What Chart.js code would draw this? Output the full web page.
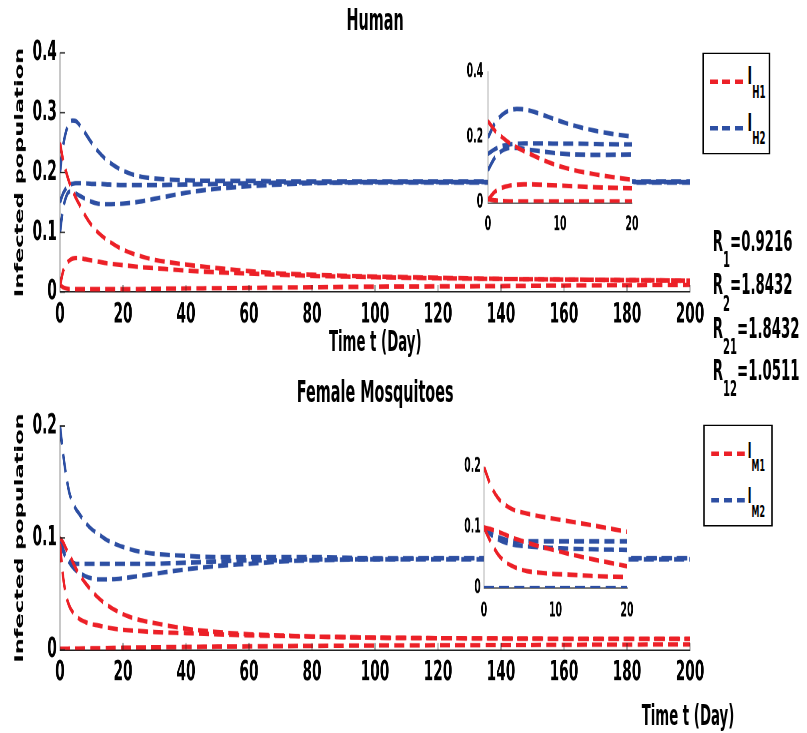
<!DOCTYPE html>
<html>
<head>
<meta charset="utf-8">
<title>Infected population - Human / Female Mosquitoes</title>
<script src="https://cdn.jsdelivr.net/npm/chart.js@4.4.1/dist/chart.umd.min.js"></script>
<style>
  html { overflow: hidden; }
  html, body { margin: 0; padding: 0; background: #fff; }
  body { width: 807px; height: 733px; }
  /* the original figure has very tall, narrow lettering: lay out in
     unstretched units and squeeze x by 0.8, stretch y by 1.5 */
  #fig {
    position: relative; width: 1009px; height: 489px;
    transform: scale(0.8, 1.5); transform-origin: 0 0;
    font-family: 'DejaVu Sans Condensed', 'Liberation Sans Narrow', 'DejaVu Sans', sans-serif;
    font-weight: bold; color: #000;
  }
  #fig canvas { position: absolute; }
  .txt { position: absolute; white-space: nowrap; line-height: 1; text-align: center; }
  .title { font-size: 20px; width: 240px; }
  .xlab { font-size: 18.5px; width: 200px; }
  .rval { position: absolute; white-space: nowrap; line-height: 1; font-size: 18.5px; left: 891px; }
  .rval sub { font-size: 14px; vertical-align: -11px; line-height: 1; }
  .legend { position: absolute; border-style: solid; border-color: #000; border-width: 1.4px 2.2px; box-sizing: border-box; background: #fff; }
  .legend .sw { position: absolute; height: 2.8px; }
  .legend .lab { position: absolute; line-height: 1; }
  .legend sub { line-height: 1; }
  .red { background: repeating-linear-gradient(to right, #ec2027 0 10px, transparent 10px 16px); }
  .blue { background: repeating-linear-gradient(to right, #2d4fa3 0 10px, transparent 10px 16px); }
</style>
</head>
<body>
<div id="fig">
  <canvas id="cHuman" width="910" height="240" style="left:0;top:0"></canvas>
  <canvas id="cHumanIn" width="275" height="130" style="left:550px;top:30px"></canvas>
  <canvas id="cMosq" width="910" height="249" style="left:0;top:240px"></canvas>
  <canvas id="cMosqIn" width="275" height="125" style="left:550px;top:295px"></canvas>

  <div class="txt title" style="left:349px;top:3.1px">Human</div>
  <div class="txt xlab" style="left:369px;top:219.4px">Time t (Day)</div>
  <div class="txt title" style="left:349px;top:250.9px">Female Mosquitoes</div>
  <div class="txt xlab" style="left:760px;top:468px">Time t (Day)</div>

  <div class="legend" style="left:877.5px;top:35.3px;width:85px;height:67.3px">
    <div class="sw red" style="left:7.5px;width:43.7px;top:16.6px"></div>
    <div class="lab" style="left:55px;top:5.6px;font-size:17px">I<sub style="font-size:12px;vertical-align:-9px">H1</sub></div>
    <div class="sw blue" style="left:7.5px;width:43.7px;top:47.9px"></div>
    <div class="lab" style="left:55px;top:36.9px;font-size:17px">I<sub style="font-size:12px;vertical-align:-9px">H2</sub></div>
  </div>
  <div class="legend" style="left:878.7px;top:283.3px;width:87.5px;height:68px">
    <div class="sw red" style="left:8.7px;width:41.3px;top:16.8px"></div>
    <div class="lab" style="left:54px;top:9px;font-size:14px">I<sub style="font-size:11px;vertical-align:-9px">M1</sub></div>
    <div class="sw blue" style="left:8.7px;width:41.3px;top:48.2px"></div>
    <div class="lab" style="left:54px;top:39px;font-size:14px">I<sub style="font-size:11px;vertical-align:-9.5px">M2</sub></div>
  </div>

  <div class="rval" style="top:152.4px">R<sub>1</sub>=0.9216</div>
  <div class="rval" style="top:181px">R<sub>2</sub>=1.8432</div>
  <div class="rval" style="top:209.7px">R<sub>21</sub>=1.8432</div>
  <div class="rval" style="top:238.4px">R<sub>12</sub>=1.0511</div>
</div>

<script>
// time grid (days) for the 0-200 day runs
const tLong = [0, 1, 2, 3, 4, 5, 6, 8, 10, 12, 15, 20, 25, 30, 40, 50, 60, 70, 80, 100, 120, 140, 160, 180, 200];
// time grid for the zoomed mosquito inset (0-20 days)
const tShort = [0, 1, 2, 3, 4, 5, 6, 8, 10, 12, 15, 20];

// Human, I_H1 (three initial conditions)
const ih1a = [.25, .22, .2, .183, .17, .158, .148, .128, .112, .1, .087, .071, .061, .054, .046, .04, .035, .031, .029, .026, .024, .022, .021, .02, .019];
const ih1b = [.01, .035, .047, .053, .056, .057, .057, .055, .053, .051, .048, .045, .042, .04, .036, .033, .031, .029, .027, .025, .023, .022, .021, .02, .019];
const ih1c = [.012, .008, .006, .005, .005, .005, .005, .005, .005, .005, .005, .005, .005, .0055, .006, .0065, .007, .0075, .008, .009, .0095, .01, .011, .0115, .012];
// Human, I_H2
const ih2a = [.2, .245, .27, .283, .287, .286, .281, .266, .25, .236, .22, .203, .194, .19, .187, .186, .186, .185, .185, .185, .185, .185, .185, .185, .185];
const ih2b = [.15, .165, .174, .179, .181, .182, .182, .182, .181, .181, .18, .179, .179, .179, .18, .181, .182, .183, .183, .184, .184, .184, .184, .184, .184];
const ih2c = [.1, .14, .16, .168, .168, .165, .162, .156, .151, .148, .147, .148, .151, .156, .166, .173, .177, .18, .182, .183, .183, .183, .183, .183, .183];

// Female mosquitoes, I_M1
const im1a = [.1, .096, .09, .085, .079, .073, .068, .06, .053, .047, .04, .032, .027, .024, .019, .016, .014, .013, .012, .011, .0105, .0102, .01, .01, .01];
const im1b = [.095, .065, .048, .039, .034, .031, .028, .025, .023, .022, .02, .018, .017, .016, .015, .014, .013, .0125, .012, .011, .0105, .0102, .01, .01, .01];
const im1c = [.001, .001, .001, .0012, .0012, .0013, .0013, .0014, .0015, .0016, .0017, .002, .0022, .0024, .0027, .003, .0032, .0034, .0036, .004, .0042, .0044, .0046, .0048, .005];
// Female mosquitoes, I_M2
const im2a = [.2, .175, .155, .14, .132, .126, .122, .114, .108, .104, .098, .092, .088, .086, .084, .083, .083, .083, .083, .082, .082, .082, .082, .082, .082];
const im2b = [.098, .088, .082, .079, .078, .077, .077, .077, .077, .077, .077, .077, .077, .077, .078, .079, .08, .08, .081, .081, .082, .082, .082, .082, .082];
const im2c = [.1, .09, .083, .078, .074, .071, .069, .066, .064, .063, .063, .064, .066, .068, .072, .075, .077, .079, .08, .081, .081, .081, .081, .081, .081];

// mosquito inset (0-20 days)
const insM1a = [.2, .168, .148, .137, .13, .126, .123, .118, .114, .11, .104, .093];
const insM1b = [.1, .097, .093, .088, .083, .079, .075, .068, .062, .056, .048, .036];
const insM1c = [.1, .075, .055, .043, .036, .031, .028, .025, .023, .022, .02, .018];
const insM2a = [.1, .09, .084, .08, .078, .077, .077, .077, .077, .077, .077, .077];
const insM2b = [.1, .088, .08, .075, .072, .07, .069, .067, .066, .065, .064, .063];
const insM2c = [0, 0, 0, 0, 0, 0, 0, 0, 0, 0, 0, 0];

// tick values
const dayTicks = [0, 20, 40, 60, 80, 100, 120, 140, 160, 180, 200];
const dayTicksIn = [0, 10, 20];
const humanTicks = [0, 0.1, 0.2, 0.3, 0.4];
const humanTicksIn = [0, 0.2, 0.4];
const mosqTicks = [0, 0.1, 0.2];

const RED = '#ec2027';
const BLUE = '#2d4fa3';
const COND = "'DejaVu Sans Condensed', 'Liberation Sans Narrow', 'DejaVu Sans', sans-serif";

function line(ts, vs, color) {
  return {
    data: ts.map((t, i) => ({ x: t, y: vs[i] })),
    borderColor: color, borderWidth: 3, borderDash: [12.5, 6.5],
    pointRadius: 0, fill: false, cubicInterpolationMode: 'monotone'
  };
}

// short tick marks drawn inward, like the matlab axes
const inTicks = {
  id: 'inTicks',
  afterDraw(chart, args, opts) {
    if (!opts.on) return;
    const { ctx, chartArea: a, scales: { x, y } } = chart;
    ctx.save();
    ctx.strokeStyle = opts.color;
    ctx.lineWidth = 1;
    ctx.beginPath();
    x.ticks.forEach((t, i) => {
      const px = x.getPixelForTick(i);
      ctx.moveTo(px, a.bottom);
      ctx.lineTo(px, a.bottom - 4.7);
    });
    y.ticks.forEach((t, i) => {
      const py = y.getPixelForTick(i);
      ctx.moveTo(a.left, py);
      ctx.lineTo(a.left + 6.2, py);
    });
    ctx.stroke();
    ctx.restore();
  }
};

// the insets hide the main curves behind them
const whiteBox = {
  id: 'whiteBox',
  beforeDraw(chart, args, opts) {
    if (!opts.on) return;
    const { ctx, chartArea: a } = chart;
    ctx.save();
    ctx.fillStyle = '#fff';
    ctx.fillRect(a.left, a.top, a.right - a.left, a.bottom - a.top);
    ctx.restore();
  }
};

function fmt(v) { return String(+Number(v).toFixed(2)); }

function plotOptions(c) {
  return {
    responsive: false, animation: false, events: [], devicePixelRatio: 2,
    layout: { padding: c.pad },
    plugins: {
      legend: { display: false }, tooltip: { enabled: false },
      inTicks: { on: c.ticksIn, color: c.axis }, whiteBox: { on: c.white }
    },
    scales: {
      x: {
        type: 'linear', min: 0, max: c.xMax,
        afterBuildTicks: s => { s.ticks = c.xTicks.map(v => ({ value: v })); },
        afterFit: s => { s.height = c.xH; },
        grid: { display: false, drawTicks: false },
        border: { display: true, color: c.axis, width: 1 },
        ticks: { padding: c.xPad, color: '#000', maxRotation: 0, autoSkip: false,
                 font: { family: COND, size: c.fs, weight: 'bold' }, callback: fmt }
      },
      y: {
        type: 'linear', min: 0, max: c.yMax,
        afterBuildTicks: s => { s.ticks = c.yTicks.map(v => ({ value: v })); },
        afterFit: s => { s.width = c.yW; },
        grid: { display: false, drawTicks: false },
        border: { display: true, color: c.axis, width: 1 },
        ticks: { padding: c.yPad, color: '#000', autoSkip: false,
                 font: { family: COND, size: c.fs, weight: 'bold' }, callback: fmt },
        title: {
          display: c.yTitle, text: 'Infected population', color: '#000',
          font: { family: "'DejaVu Sans', sans-serif", size: 15, weight: 'bold' },
          padding: { top: 16, bottom: 0 }
        }
      }
    }
  };
}

new Chart(document.getElementById('cHuman'), {
  type: 'line',
  data: { datasets: [
    line(tLong, ih1a, RED), line(tLong, ih1b, RED), line(tLong, ih1c, RED),
    line(tLong, ih2a, BLUE), line(tLong, ih2b, BLUE), line(tLong, ih2c, BLUE)
  ] },
  options: plotOptions({ pad: { top: 35.3, right: 47.5, left: 0, bottom: 0 }, xMax: 200, yMax: 0.4,
    xTicks: dayTicks, yTicks: humanTicks, xH: 45.3, yW: 75, xPad: 3.9, yPad: 4, fs: 19,
    ticksIn: true, axis: '#222', white: false, yTitle: true }),
  plugins: [inTicks, whiteBox]
});

new Chart(document.getElementById('cHumanIn'), {
  type: 'line',
  data: { datasets: [
    line(tLong, ih1a, RED), line(tLong, ih1b, RED), line(tLong, ih1c, RED),
    line(tLong, ih2a, BLUE), line(tLong, ih2b, BLUE), line(tLong, ih2c, BLUE)
  ] },
  options: plotOptions({ pad: { top: 18, right: 35, left: 0, bottom: 0 }, xMax: 20, yMax: 0.4,
    xTicks: dayTicksIn, yTicks: humanTicksIn, xH: 24.7, yW: 60, xPad: 7.2, yPad: 6, fs: 13,
    ticksIn: false, axis: '#666', white: true, yTitle: false }),
  plugins: [inTicks, whiteBox]
});

new Chart(document.getElementById('cMosq'), {
  type: 'line',
  data: { datasets: [
    line(tLong, im1a, RED), line(tLong, im1b, RED), line(tLong, im1c, RED),
    line(tLong, im2a, BLUE), line(tLong, im2b, BLUE), line(tLong, im2c, BLUE)
  ] },
  options: plotOptions({ pad: { top: 44, right: 47.5, left: 0, bottom: 0 }, xMax: 200, yMax: 0.2,
    xTicks: dayTicks, yTicks: mosqTicks, xH: 55.7, yW: 75, xPad: 4, yPad: 4, fs: 19,
    ticksIn: true, axis: '#222', white: false, yTitle: true }),
  plugins: [inTicks, whiteBox]
});

new Chart(document.getElementById('cMosqIn'), {
  type: 'line',
  data: { datasets: [
    line(tShort, insM1a, RED), line(tShort, insM1b, RED), line(tShort, insM1c, RED),
    line(tShort, insM2a, BLUE), line(tShort, insM2b, BLUE), line(tShort, insM2c, BLUE)
  ] },
  options: plotOptions({ pad: { top: 16.3, right: 41.2, left: 0, bottom: 0 }, xMax: 20, yMax: 0.2,
    xTicks: dayTicksIn, yTicks: mosqTicks, xH: 28, yW: 55, xPad: 8, yPad: 4, fs: 13,
    ticksIn: false, axis: '#666', white: true, yTitle: false }),
  plugins: [inTicks, whiteBox]
});
</script>
</body>
</html>
